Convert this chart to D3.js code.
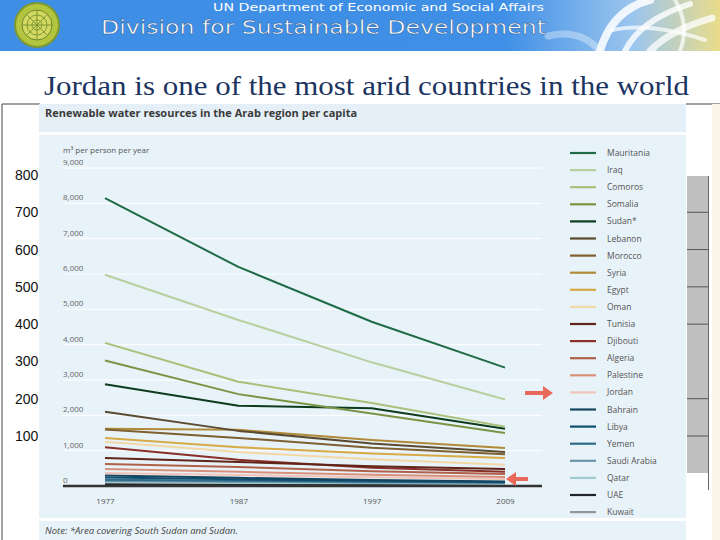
<!DOCTYPE html>
<html>
<head>
<meta charset="utf-8">
<script src="https://cdn.jsdelivr.net/npm/d3@7"></script>
<style>
  body { margin: 0; background: #fff; }
  svg { display: block; }
</style>
</head>
<body>
<svg id="slide" width="720" height="540"></svg>
<script>
// years on the x axis
const years = ["1977", "1987", "1997", "2009"];

// m3 per person per year
const mauritania  = [8150, 6200, 4650, 3350];
const iraq        = [5980, 4700, 3500, 2450];
const comoros     = [4050, 2950, 2350, 1680];
const somalia     = [3550, 2600, 2050, 1500];
const sudan       = [2880, 2270, 2200, 1620];
const lebanon     = [2100, 1560, 1200, 960];
const morocco     = [1600, 1360, 1080, 900];
const syria       = [1620, 1590, 1300, 1075];
const egypt       = [1360, 1100, 920, 790];
const oman        = [1250, 960, 760, 600];
const tunisia     = [790, 680, 560, 480];
const djibouti    = [1100, 740, 520, 400];
const algeria     = [620, 540, 420, 340];
const palestine   = [480, 400, 320, 255];
const jordan      = [370, 310, 250, 200];
const bahrain     = [300, 230, 170, 130];
const libya       = [240, 190, 150, 110];
const yemen       = [180, 150, 120, 100];
const saudiArabia = [140, 120, 100, 90];
const qatar       = [110, 90, 75, 60];
const uae         = [40, 30, 25, 20];
const kuwait      = [60, 50, 40, 30];

const countries = ["Mauritania", "Iraq", "Comoros", "Somalia", "Sudan*", "Lebanon", "Morocco",
  "Syria", "Egypt", "Oman", "Tunisia", "Djibouti", "Algeria", "Palestine", "Jordan", "Bahrain",
  "Libya", "Yemen", "Saudi Arabia", "Qatar", "UAE", "Kuwait"];
const seriesValues = [mauritania, iraq, comoros, somalia, sudan, lebanon, morocco, syria, egypt,
  oman, tunisia, djibouti, algeria, palestine, jordan, bahrain, libya, yemen, saudiArabia, qatar,
  uae, kuwait];
const colours = ["#1f6b47", "#b9cfa0", "#a8c078", "#7a9444", "#0d3b1e", "#5a4a30", "#7d5f30",
  "#b08a38", "#d7aa45", "#f2d8a4", "#5e2518", "#8a3028", "#b06048", "#d8907a", "#f0c4b8",
  "#174560", "#0f4f6f", "#2f6a8a", "#6a94a6", "#9ecad0", "#1f2428", "#8f969c"];

const yTicks = [0, 1000, 2000, 3000, 4000, 5000, 6000, 7000, 8000, 9000];
// numbers of the slide's own chart that show behind the picture
const backTicks = [100, 200, 300, 400, 500, 600, 700, 800];
const backLines = [100, 200, 400, 500, 600, 700];

const svg = d3.select('#slide');

// ---- header banner ----
const defs = svg.append('defs');
const grad = defs.append('linearGradient').attr('id', 'hdr');
grad.append('stop').attr('offset', '0%').attr('stop-color', '#3d8ee4');
grad.append('stop').attr('offset', '70%').attr('stop-color', '#3f8fe6');
grad.append('stop').attr('offset', '88%').attr('stop-color', '#9cc6ee');
grad.append('stop').attr('offset', '100%').attr('stop-color', '#e9dc8a');

svg.append('rect').attr('x', 0).attr('y', 0).attr('width', 720).attr('height', 51)
  .attr('fill', 'url(#hdr)');

// UN emblem
const logo = svg.append('g').attr('transform', 'translate(37,25)');
logo.append('circle').attr('r', 22).attr('fill', '#b3c43e');
logo.append('circle').attr('r', 15).attr('fill', '#d2d860').attr('stroke', '#6f8a2c').attr('stroke-width', 1);
[5, 10].forEach(r => logo.append('circle').attr('r', r).attr('fill', 'none')
  .attr('stroke', '#6f8a2c').attr('stroke-width', 0.8));
d3.range(0, 180, 45).forEach(a => logo.append('line')
  .attr('x1', -15).attr('x2', 15).attr('transform', `rotate(${a})`)
  .attr('stroke', '#6f8a2c').attr('stroke-width', 0.8));
logo.append('circle').attr('r', 22).attr('fill', 'none').attr('stroke', '#7e9a30').attr('stroke-width', 2);

// swirl emblem on the right
const sw = svg.append('g').attr('fill', 'none').attr('stroke', '#ffffff').attr('stroke-linecap', 'round');
sw.append('path').attr('d', 'M548,36 Q580,28 600,51').attr('stroke-width', 7).attr('opacity', 0.35);
sw.append('path').attr('d', 'M600,51 Q612,10 650,0').attr('stroke-width', 8).attr('opacity', 0.85);
sw.append('path').attr('d', 'M625,51 Q640,20 690,4').attr('stroke-width', 6).attr('opacity', 0.8);
sw.append('path').attr('d', 'M650,51 Q670,30 712,18').attr('stroke-width', 7).attr('opacity', 0.75);
sw.append('path').attr('d', 'M612,30 Q650,22 705,40').attr('stroke-width', 4).attr('opacity', 0.7);
sw.append('path').attr('d', 'M675,0 Q690,25 680,51').attr('stroke-width', 4).attr('opacity', 0.7);

svg.append('text').attr('x', 544).attr('y', 11).attr('text-anchor', 'end')
  .attr('font-family', 'DejaVu Sans, Verdana, sans-serif').attr('font-size', 10.5)
  .attr('fill', '#ffffff').attr('textLength', 331).attr('lengthAdjust', 'spacingAndGlyphs')
  .text('UN Department of Economic and Social Affairs');
svg.append('text').attr('x', 101).attr('y', 34)
  .attr('font-family', 'DejaVu Sans, Verdana, sans-serif').attr('font-size', 19)
  .attr('fill', '#ffffff').attr('stroke', '#1d4f8a').attr('stroke-width', 0.4)
  .attr('textLength', 445).attr('lengthAdjust', 'spacingAndGlyphs')
  .text('Division for Sustainable Development');

// ---- slide title ----
svg.append('text').attr('x', 44).attr('y', 95)
  .attr('font-family', 'Liberation Serif, DejaVu Serif, serif').attr('font-size', 27)
  .attr('fill', '#1c3461').attr('textLength', 645).attr('lengthAdjust', 'spacingAndGlyphs')
  .text('Jordan is one of the most arid countries in the world');

// ---- slide's own chart frame behind the picture ----
svg.append('path').attr('d', 'M2,540 L2,104 L40,104 M686,104 L720,104')
  .attr('fill', 'none').attr('stroke', '#444').attr('stroke-width', 1);

const yBack = d3.scaleLinear().domain([100, 800]).range([436, 175]);
svg.append('g').selectAll('text').data(backTicks).join('text')
  .attr('x', 15).attr('y', d => yBack(d) + 5)
  .attr('font-family', 'Liberation Sans, Arial, sans-serif').attr('font-size', 14)
  .attr('fill', '#111').text(d => d);

svg.append('rect').attr('x', 687).attr('y', 176).attr('width', 21).attr('height', 297)
  .attr('fill', '#c0c0c0');
svg.append('g').selectAll('line').data(backLines).join('line')
  .attr('x1', 687).attr('x2', 708).attr('y1', d => yBack(d)).attr('y2', d => yBack(d))
  .attr('stroke', '#555').attr('stroke-width', 1);
svg.append('line').attr('x1', 708.5).attr('x2', 708.5).attr('y1', 176).attr('y2', 490)
  .attr('stroke', '#666').attr('stroke-width', 1);
svg.append('rect').attr('x', 712).attr('y', 104).attr('width', 8).attr('height', 436)
  .attr('fill', '#fbf4e8');

// ---- the picture ----
svg.append('rect').attr('x', 39).attr('y', 104).attr('width', 647).attr('height', 28)
  .attr('fill', '#e4eff7');
svg.append('rect').attr('x', 39).attr('y', 135).attr('width', 647).attr('height', 383)
  .attr('fill', '#e8f2f9');
svg.append('rect').attr('x', 39).attr('y', 521).attr('width', 647).attr('height', 19)
  .attr('fill', '#e8f2f9');

svg.append('text').attr('x', 45).attr('y', 117)
  .attr('font-family', 'Open Sans, DejaVu Sans, sans-serif').attr('font-size', 11)
  .attr('font-weight', 'bold').attr('fill', '#3b3b3b')
  .text('Renewable water resources in the Arab region per capita');

svg.append('text').attr('x', 45).attr('y', 534)
  .attr('font-family', 'Open Sans, DejaVu Sans, sans-serif').attr('font-size', 9.5)
  .attr('font-style', 'italic').attr('fill', '#444')
  .text('Note: *Area covering South Sudan and Sudan.');

const x = d3.scalePoint().domain(years).range([105, 505]);
const y = d3.scaleLinear().domain([0, 9000]).range([486, 168]);

const plot = svg.append('g');

// white gridlines
plot.append('g').selectAll('line').data(yTicks.slice(1)).join('line')
  .attr('x1', 63).attr('x2', 542).attr('y1', d => y(d)).attr('y2', d => y(d))
  .attr('stroke', '#ffffff').attr('stroke-width', 1);

// tick labels sit above their gridline
plot.append('g').selectAll('text').data(yTicks).join('text')
  .attr('x', 63).attr('y', d => y(d) - 3)
  .attr('font-family', 'Open Sans, DejaVu Sans, sans-serif').attr('font-size', 8)
  .attr('fill', '#666').text(d3.format(','));

plot.append('text').attr('x', 63).attr('y', 153)
  .attr('font-family', 'Open Sans, DejaVu Sans, sans-serif').attr('font-size', 8)
  .attr('fill', '#555').text('m\u00B3 per person per year');

const xAxis = plot.append('g').attr('transform', 'translate(0,498)')
  .call(d3.axisBottom(x).tickSize(0).tickPadding(0));
xAxis.select('.domain').remove();
xAxis.selectAll('text').attr('font-family', 'Open Sans, DejaVu Sans, sans-serif')
  .attr('font-size', 8).attr('fill', '#555');

const line = d3.line()
  .x((d, i) => x(years[i]))
  .y(d => y(d));

// draw bottom series last-first so the top ones sit over them
const order = d3.range(countries.length).reverse();
plot.append('g').selectAll('path').data(order).join('path')
  .attr('d', i => line(seriesValues[i]))
  .attr('fill', 'none').attr('stroke', i => colours[i])
  .attr('stroke-width', 2).attr('stroke-linejoin', 'round');

// zero line
plot.append('line').attr('x1', 63).attr('x2', 542).attr('y1', y(0)).attr('y2', y(0))
  .attr('stroke', '#333').attr('stroke-width', 2.5);

// legend
const legend = plot.append('g').selectAll('g').data(countries).join('g')
  .attr('transform', (d, i) => `translate(0,${153 + i * 17.1})`);
legend.append('line').attr('x1', 570).attr('x2', 596)
  .attr('stroke', (d, i) => colours[i]).attr('stroke-width', 2.2);
legend.append('text').attr('x', 607).attr('y', 3)
  .attr('font-family', 'Open Sans, DejaVu Sans, sans-serif').attr('font-size', 8.5)
  .attr('fill', '#555').text(d => d);

// red arrows pointing at Jordan
const arrows = svg.append('g').attr('fill', '#e8685a');
arrows.append('path').attr('d', 'M525,391 L543,391 L543,386 L553,393 L543,400 L543,395 L525,395 Z');
arrows.append('path').attr('d', 'M528,477 L516,477 L516,472 L506,479 L516,486 L516,481 L528,481 Z');
</script>
</body>
</html>
